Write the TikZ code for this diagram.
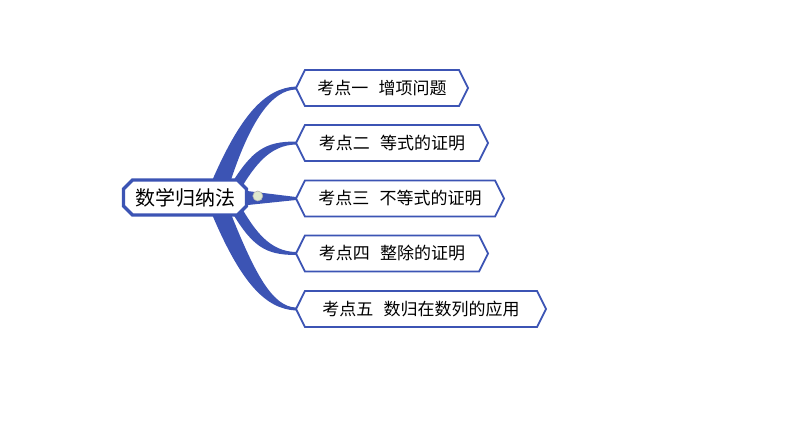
\documentclass[tikz,border=0pt]{standalone}
\usepackage{fontspec}
\setmainfont{Noto Sans CJK SC}
\usepackage{tikz}
\usetikzlibrary{positioning,shapes.symbols,calc,backgrounds}
\usepackage{xcolor}
\definecolor{mapblue}{RGB}{60,84,180}
\definecolor{foldgreen}{RGB}{222,232,205}

\begin{document}
\begin{tikzpicture}[x=1pt, y=-1pt, every node/.style={font=\fontsize{17pt}{20pt}\selectfont, text=black}]
\tikzset{root/.style={minimum width=123pt, minimum height=35pt, inner sep=0pt, outer sep=0pt, font=\fontsize{20pt}{24pt}\selectfont}}
\tikzset{rootline/.style={draw=mapblue, line width=3.2pt, fill=white}}
\tikzset{kp/.style={draw=mapblue, line width=1.8pt, fill=white, signal, signal to=west and east, signal pointer angle=127, minimum height=36pt, inner sep=0pt, outer sep=0pt, anchor=west}}
\tikzset{branch/.style={fill=mapblue}}
\tikzset{fold/.style={draw=gray!60, line width=0.6pt, fill=foldgreen, circle, minimum size=10pt, inner sep=0pt}}
\useasboundingbox (0,0) rectangle (794,447);
\node[root] (root) at (185,197.5) {数学归纳法};
\node[kp, minimum width=172pt] (k1) at (296,88) {考点一\hspace{0.6em}增项问题};
\node[kp, minimum width=192pt] (k2) at (296,143) {考点二\hspace{0.6em}等式的证明};
\node[kp, minimum width=208pt] (k3) at (296,198.5) {考点三\hspace{0.6em}不等式的证明};
\node[kp, minimum width=192pt] (k4) at (296,253.5) {考点四\hspace{0.6em}整除的证明};
\node[kp, minimum width=250pt] (k5) at (296,309) {考点五\hspace{0.6em}数归在数列的应用};
\node[fold, right=6pt of root.east, yshift=1.5pt] (fold) {};
% tapered branches, then the root frame over them
\begin{scope}[on background layer]
\fill[branch] ($(root.center)+(25,-12)$) .. controls ($(k1.west)+(-56,27)$) and ($(k1.west)+(-31,0)$) .. ($(k1.west)+(0,-1.5)$)
  -- ($(k1.west)+(0,1.5)$) .. controls ($(k1.west)+(-24,2)$) and ($(k1.west)+(-46,32)$) .. ($(root.center)+(44,-11.5)$) -- cycle;
\fill[branch] ($(root.center)+(45,-11.5)$) .. controls ($(k2.west)+(-44,7)$) and ($(k2.west)+(-31,-1.5)$) .. ($(k2.west)+(0,-1.5)$)
  -- ($(k2.west)+(0,1.5)$) .. controls ($(k2.west)+(-26,2)$) and ($(k2.west)+(-41,22)$) .. ($(root.center)+(55,-7.5)$) -- cycle;
\fill[branch] ($(root.center)+(58,-7)$) -- ($(k3.west)+(0,-1.5)$) -- ($(k3.west)+(0,1.5)$) -- ($(root.center)+(58,8)$) -- cycle;
\fill[branch] ($(root.center)+(55,7.5)$) .. controls ($(k4.west)+(-41,-22)$) and ($(k4.west)+(-26,-2)$) .. ($(k4.west)+(0,-1.5)$)
  -- ($(k4.west)+(0,1.5)$) .. controls ($(k4.west)+(-31,1.5)$) and ($(k4.west)+(-44,-7)$) .. ($(root.center)+(45,11.5)$) -- cycle;
\fill[branch] ($(root.center)+(44,11.5)$) .. controls ($(k5.west)+(-42,-37)$) and ($(k5.west)+(-24,-2)$) .. ($(k5.west)+(0,-1.5)$)
  -- ($(k5.west)+(0,1.5)$) .. controls ($(k5.west)+(-31,0)$) and ($(k5.west)+(-56,-27)$) .. ($(root.center)+(25,12)$) -- cycle;
\path[rootline] ($(root.north west)+(9,0)$) -- ($(root.north east)+(-9,0)$) -- ($(root.north east)+(0,9)$)
  -- ($(root.south east)+(0,-9)$) -- ($(root.south east)+(-9,0)$) -- ($(root.south west)+(9,0)$)
  -- ($(root.south west)+(0,-9)$) -- ($(root.north west)+(0,9)$) -- cycle;
\end{scope}
\end{tikzpicture}
\end{document}
